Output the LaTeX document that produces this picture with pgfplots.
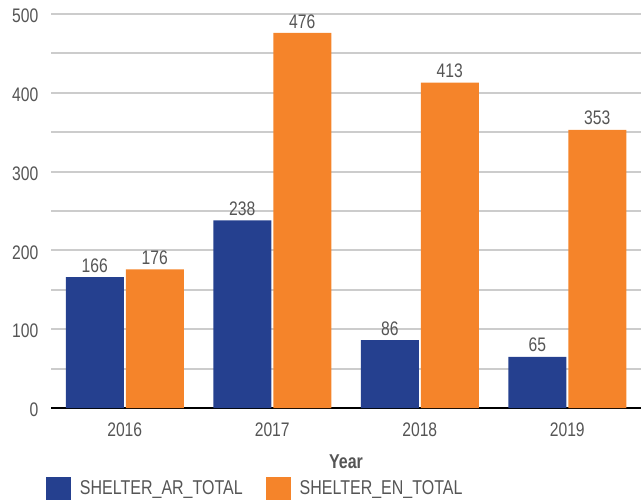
\documentclass[border=0pt]{standalone}
\usepackage{pgfplots}
\pgfplotsset{compat=1.18}
\usepackage{fontspec}
\setmainfont{Liberation Sans}[FakeStretch=0.8]
\definecolor{navy}{RGB}{37,64,143}
\definecolor{orng}{RGB}{245,132,42}
\definecolor{txtgray}{RGB}{85,85,85}
\definecolor{gridgray}{RGB}{204,204,204}
\begin{document}
\begin{tikzpicture}
\begin{axis}[
  scale only axis,
  width=442.5pt, height=295.5pt,
  xmin=-0.5, xmax=3.5, ymin=0, ymax=500,
  ybar=1.5pt, bar width=43.5pt,
  xtick={0,1,2,3}, xticklabels={2016,2017,2018,2019},
  ytick={0,100,200,300,400,500},
  minor ytick={50,150,250,350,450},
  ymajorgrids, yminorgrids,
  major grid style={gridgray, line width=1.5pt},
  minor grid style={gridgray, line width=1.5pt},
  axis x line=bottom, axis y line=left,
  x axis line style={-, black, line width=1.5pt},
  y axis line style={draw=none},
  major tick length=0pt, minor tick length=0pt,
  tick style={draw=none},
  /pgf/number format/assume math mode=true,
  /pgf/number format/1000 sep={},
  tick label style={font=\fontsize{14.7}{16}\selectfont, text=txtgray},
  xticklabel style={yshift=-7.5pt},
  yticklabel style={xshift=-6pt, yshift=-1.5pt},
  xlabel={\textbf{Year}},
  xlabel style={font=\fontsize{15}{17}\selectfont, text=txtgray, yshift=-6.5pt},
  nodes near coords,
  every node near coord/.append style={font=\fontsize{14.7}{16}\selectfont, text=txtgray, /pgf/number format/assume math mode=true},
  legend columns=2,
  legend style={at={(0,0)}, anchor=north west, xshift=-3.75pt, yshift=-51.75pt,
    draw=none, fill=none, inner sep=0pt, outer sep=0pt,
    font=\fontsize{15}{17}\selectfont, text=txtgray,
    nodes={inner sep=0pt},
    /tikz/every even column/.append style={column sep=17.25pt}},
  legend image code/.code={\fill[#1] (0pt,-8.625pt) rectangle (18.75pt,8.625pt); \path (25.5pt,0pt);},
]
\coordinate (ll) at (rel axis cs:0,0);
\addplot[fill=navy, draw=none] coordinates {(0,166) (1,238) (2,86) (3,65)};
\addplot[fill=orng, draw=none] coordinates {(0,176) (1,476) (2,413) (3,353)};
\legend{SHELTER\_AR\_TOTAL, SHELTER\_EN\_TOTAL}
\end{axis}
\pgfresetboundingbox
\path[use as bounding box] (ll) ++(-38.25pt,-69.75pt) rectangle ++(480.75pt,375.75pt);
\end{tikzpicture}
\end{document}
